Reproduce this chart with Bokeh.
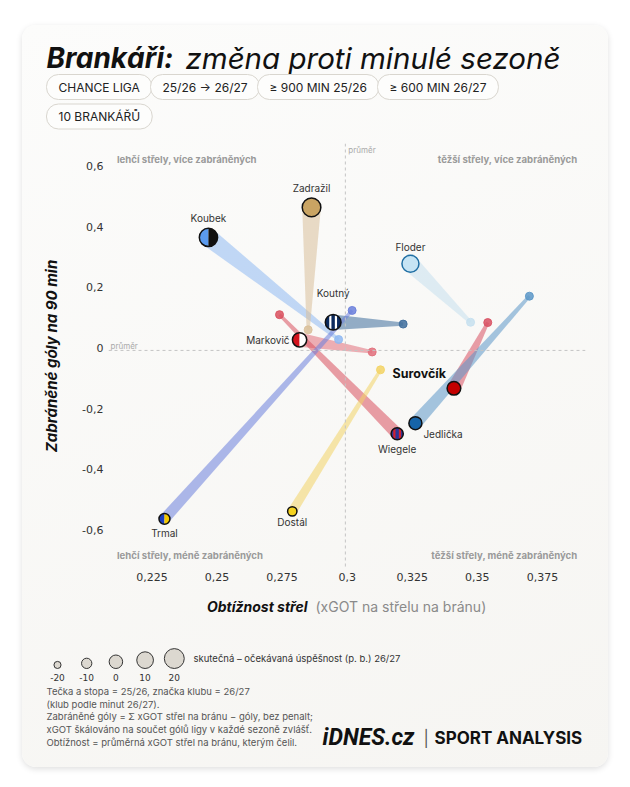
import math
from bokeh.plotting import figure
from bokeh.models import Range1d, FixedTicker, CustomJSTickFormatter, Span, Label
from bokeh.layouts import column
from bokeh.embed import file_html
from bokeh.resources import INLINE
from bokeh.core.properties import value

# ---------------- data ----------------
names = ["Koubek", "Zadražil", "Koutný", "Floder", "Markovič",
         "Wiegele", "Surovčík", "Jedlička", "Trmal", "Dostál"]
# 25/26 (dot + trail start)
prev_difficulty = [0.2967, 0.2850, 0.3215, 0.3474, 0.3096, 0.2740, 0.3540, 0.3700, 0.3019, 0.3128]
prev_prevented = [0.028, 0.060, 0.079, 0.085, -0.013, 0.110, 0.084, 0.171, 0.124, -0.072]
# 26/27 (club marker)
cur_difficulty = [0.2467, 0.2863, 0.2946, 0.3243, 0.2817, 0.3192, 0.3410, 0.3262, 0.2298, 0.2789]
cur_prevented = [0.365, 0.464, 0.085, 0.278, 0.027, -0.283, -0.133, -0.248, -0.564, -0.539]
# actual - expected save % (p. b.) 26/27
save_delta_pp = [15, 16, 7, 11, 2.5, -4, 0.5, -1.5, -8, -13]

avg_difficulty = 0.2993
avg_prevented = -0.008

x_ticks = [0.225, 0.25, 0.275, 0.3, 0.325, 0.35, 0.375]
y_ticks = [-0.6, -0.4, -0.2, 0.0, 0.2, 0.4, 0.6]
legend_values = [-20, -10, 0, 10, 20]

chips_row1 = ["CHANCE LIGA", "25/26 → 26/27", "≥ 900 MIN 25/26", "≥ 600 MIN 26/27"]
chips_row2 = ["10 BRANKÁŘŮ"]
notes = [
    "Tečka a stopa = 25/26, značka klubu = 26/27",
    "(klub podle minut 26/27).",
    "Zabráněné góly = Σ xGOT střel na bránu − góly, bez penalt;",
    "xGOT škálováno na součet gólů ligy v každé sezoně zvlášť.",
    "Obtížnost = průměrná xGOT střel na bránu, kterým čelil.",
]

# ---------------- styles ----------------
primary = ["#5b9bef", "#c9a463", "#0b2a5e", "#c6e4f4", "#d3121c",
           "#2c3596", "#c40000", "#1664a8", "#1c3fc0", "#f4d21f"]
secondary = ["#111111", None, "#ffffff", None, "#ffffff",
             "#d3202e", None, None, "#f4c800", None]
pattern = ["half", "solid", "stripes", "solid", "half",
           "stripes", "solid", "solid", "half", "solid"]
outline = ["#111111"] * 10
outline[3] = "#1f6ea3"
trail_color = ["#8fb9f2", "#d9c09a", "#3e6d9c", "#c7e0ef", "#e2707c",
               "#d9505e", "#d85062", "#5d98c8", "#6b80dc", "#f3d466"]

label_layout = {
    "Koubek": (0, -19, "center"),
    "Zadražil": (0, -19, "center"),
    "Koutný": (0, -29, "center"),
    "Floder": (0, -17, "center"),
    "Markovič": (-10, 0, "right"),
    "Wiegele": (0, 15, "center"),
    "Jedlička": (8, 11, "left"),
    "Trmal": (0, 14, "center"),
    "Dostál": (0, 11, "center"),
}

CARD = None
FONT = "Inter"
W = 586
H_HEAD, H_MAIN, H_FOOT = 110, 455, 177
ML, MR, MT, MB = 86, 23, 8, 22
X0, X1 = 0.20830, 0.39155
Y0, Y1 = -0.7277, 0.6749
FW = W - ML - MR
FH = H_MAIN - MT - MB
kx = FW / (X1 - X0)
ky = FH / (Y1 - Y0)


def diam(delta):
    return 13.5 + 0.32 * delta


def plain_fig(height):
    fg = figure(width=W, height=height, x_range=Range1d(0, W), y_range=Range1d(height, 0),
                min_border=0, x_axis_location=None, y_axis_location=None, title=None,
                output_backend="svg", toolbar_location=None, frame_align=False)
    fg.grid.visible = False
    fg.outline_line_color = None
    fg.background_fill_color = CARD
    fg.border_fill_color = CARD
    return fg


# ---------------- main chart ----------------
p = figure(width=W, height=H_MAIN, x_range=Range1d(X0, X1), y_range=Range1d(Y0, Y1),
           min_border_left=ML, min_border_right=MR, min_border_top=MT, min_border_bottom=MB,
           output_backend="svg", toolbar_location=None, title=None, frame_align=False)
p.background_fill_color = CARD
p.border_fill_color = CARD
p.outline_line_color = None
p.grid.visible = False

fmt = CustomJSTickFormatter(code="""
let s = tick.toFixed(3).replace(/0+$/, '').replace(/\\.$/, '');
return s.replace('.', ',');
""")
for ax, ticks in ((p.xaxis[0], x_ticks), (p.yaxis[0], y_ticks)):
    ax.ticker = FixedTicker(ticks=ticks)
    ax.formatter = fmt
    ax.axis_line_color = None
    ax.major_tick_line_color = None
    ax.minor_tick_line_color = None
    ax.major_tick_out = 0
    ax.major_tick_in = 0
    ax.minor_tick_out = 0
    ax.minor_tick_in = 0
    ax.major_label_text_font = "DejaVu Sans"
    ax.major_label_text_font_size = "11px"
    ax.major_label_text_color = "#333333"
    ax.major_label_standoff = 5
p.xaxis[0].major_label_standoff = 4
p.yaxis[0].axis_label = "Zabráněné góly na 90 min"
p.yaxis[0].axis_label_text_font = FONT
p.yaxis[0].axis_label_text_font_style = "bold italic"
p.yaxis[0].axis_label_text_font_size = "15px"
p.yaxis[0].axis_label_text_color = "#111111"
p.yaxis[0].axis_label_standoff = 18

# average lines
p.add_layout(Span(location=avg_difficulty, dimension="height", line_color="#c4c4c4",
                  line_dash="3 3", line_width=1))
p.add_layout(Span(location=avg_prevented, dimension="width", line_color="#c4c4c4",
                  line_dash="3 3", line_width=1))
p.add_layout(Label(x=avg_difficulty + 3 / kx, y=Y1 - 6 / ky, text="průměr", text_font=FONT,
                   text_font_size="8px", text_color="#aaaaaa", text_baseline="middle"))
p.add_layout(Label(x=X0 + 2 / kx, y=avg_prevented + 4 / ky, text="průměr", text_font=FONT,
                   text_font_size="8px", text_color="#aaaaaa", text_baseline="middle"))

# quadrant labels
quad = [("lehčí střely, více zabráněných", X0 + 8.5 / kx, Y1 - 16 / ky, "left"),
        ("těžší střely, více zabráněných", X1 - 8 / kx, Y1 - 16 / ky, "right"),
        ("lehčí střely, méně zabráněných", X0 + 8.5 / kx, Y0 + 13 / ky, "left"),
        ("těžší střely, méně zabráněných", X1 - 8 / kx, Y0 + 13 / ky, "right")]
for t, qx, qy, al in quad:
    p.add_layout(Label(x=qx, y=qy, text=t, text_font=FONT, text_font_size="9.6px",
                       text_font_style="bold", text_color="#9a9a9a", text_align=al,
                       text_baseline="middle"))

n = len(names)
diams = [diam(d) for d in save_delta_pp]

# trails
xs, ys = [], []
for i in range(n):
    x0p, y0p = prev_difficulty[i] * kx, prev_prevented[i] * ky
    x1p, y1p = cur_difficulty[i] * kx, cur_prevented[i] * ky
    dx, dy = x1p - x0p, y1p - y0p
    L = math.hypot(dx, dy)
    nx, ny = -dy / L, dx / L
    w0, w1 = 1.6, diams[i] / 2
    pts = [(x0p + nx * w0, y0p + ny * w0), (x1p + nx * w1, y1p + ny * w1),
           (x1p - nx * w1, y1p - ny * w1), (x0p - nx * w0, y0p - ny * w0)]
    xs.append([q[0] / kx for q in pts])
    ys.append([q[1] / ky for q in pts])
p.patches(xs, ys, fill_color=trail_color, fill_alpha=0.55, line_color=None)

# previous season dots
p.scatter(prev_difficulty, prev_prevented, size=8, fill_color=trail_color, fill_alpha=0.85,
          line_color=trail_color, line_alpha=0.9, line_width=1)

# club markers
for i in range(n):
    cx, cy, d = cur_difficulty[i], cur_prevented[i], diams[i]
    r = d / 2
    if pattern[i] == "solid":
        p.scatter([cx], [cy], size=d, fill_color=primary[i], line_color=outline[i], line_width=1.5)
        continue
    if pattern[i] == "half":
        p.wedge([cx], [cy], radius=r, radius_units="screen", start_angle=math.pi / 2,
                end_angle=3 * math.pi / 2, fill_color=primary[i], line_color=None)
        p.wedge([cx], [cy], radius=r, radius_units="screen", start_angle=-math.pi / 2,
                end_angle=math.pi / 2, fill_color=secondary[i], line_color=None)
    else:
        p.scatter([cx], [cy], size=d, fill_color=primary[i], line_color=None)
        for off in (-2.8, 2.8):
            hh = math.sqrt(max(r * r - off * off, 0)) - 0.5
            p.segment([cx + off / kx], [cy - hh / ky], [cx + off / kx], [cy + hh / ky],
                      line_color=secondary[i], line_width=2.2, line_cap="butt")
    p.scatter([cx], [cy], size=d, fill_color=None, line_color=outline[i], line_width=1.5)

# names
for i, nm in enumerate(names):
    if nm in label_layout:
        xo, yo, al = label_layout[nm]
        p.text([cur_difficulty[i]], [cur_prevented[i]], text=[nm], x_offset=xo, y_offset=yo,
               text_align=al, text_baseline="middle", text_font=value(FONT),
               text_font_size="10px", text_color="#333333")
si = names.index("Surovčík")
p.text([cur_difficulty[si]], [cur_prevented[si]], text=["Surovčík"], x_offset=-8, y_offset=-15,
       text_align="right", text_baseline="middle", text_font=value(FONT),
       text_font_size="12.5px", text_font_style="bold", text_color="#111111")

# ---------------- header ----------------
h = plain_fig(H_HEAD)
h.add_layout(Label(x=24, y=32, text="Brankáři:", text_font=FONT, text_font_size="28px",
                   text_font_style="bold italic", text_color="#111111",
                   text_baseline="alphabetic"))
h.add_layout(Label(x=163, y=32, text="změna proti minulé sezoně", text_font=FONT,
                   text_font_size="29.5px", text_font_style="italic", text_color="#111111",
                   text_baseline="alphabetic"))
chip_x1 = [24, 128, 235, 355]
for t, cxp in zip(chips_row1, chip_x1):
    h.add_layout(Label(x=cxp, y=61.5, text=t, text_font=FONT, text_font_size="12px",
                       text_color="#222222", text_baseline="middle", padding=(12, 5),
                       background_fill_color="#fdfdfc", border_line_color="#d9d6cf",
                       border_line_width=1, border_radius=12))
for t in chips_row2:
    h.add_layout(Label(x=24, y=91, text=t, text_font=FONT, text_font_size="12px",
                       text_color="#222222", text_baseline="middle", padding=(12, 5),
                       background_fill_color="#fdfdfc", border_line_color="#d9d6cf",
                       border_line_width=1, border_radius=12))

# ---------------- footer ----------------
f = plain_fig(H_FOOT)
f.add_layout(Label(x=285, y=16, text="Obtížnost střel", text_font=FONT, text_font_size="14px",
                   text_font_style="bold italic", text_color="#111111", text_align="right",
                   text_baseline="middle"))
f.add_layout(Label(x=293, y=16, text="(xGOT na střelu na bránu)", text_font=FONT,
                   text_font_size="14px", text_color="#8a8a8a", text_baseline="middle"))

leg_x = [35 + 29.2 * k for k in range(len(legend_values))]
leg_d = [diam(v) for v in legend_values]
f.scatter(leg_x, [78 - d / 2 for d in leg_d], size=leg_d, fill_color="#dcd8d0",
          line_color="#333333", line_width=1)
f.text(leg_x, [87] * len(leg_x), text=[str(v) for v in legend_values], text_align="center",
       text_baseline="middle", text_font=value("DejaVu Sans"), text_font_size="9px",
       text_color="#333333")
f.add_layout(Label(x=171, y=68, text="skutečná – očekávaná úspěšnost (p. b.) 26/27",
                   text_font=FONT, text_font_size="9.5px", text_color="#333333",
                   text_baseline="middle"))
for k, t in enumerate(notes):
    f.add_layout(Label(x=24, y=101 + 12.7 * k, text=t, text_font=FONT, text_font_size="9.5px",
                       text_color="#555555", text_baseline="middle"))
f.add_layout(Label(x=300, y=147, text="iDNES.cz", text_font="Roboto", text_font_size="23px",
                   text_font_style="bold italic", text_color="#111111", text_baseline="middle"))
f.add_layout(Label(x=401, y=147, text="|", text_font=FONT, text_font_size="16px",
                   text_color="#555555", text_baseline="middle"))
f.add_layout(Label(x=412, y=147, text="SPORT ANALYSIS", text_font=FONT, text_font_size="17px",
                   text_font_style="bold", text_color="#111111", text_baseline="middle"))

layout = column(h, p, f, margin=(25, 0, 0, 22),
                styles={"background": "linear-gradient(160deg, #fcfcfb 0%, #f6f5f2 100%)",
                        "border-radius": "14px",
                        "box-shadow": "0 2px 6px rgba(0,0,0,0.13)"})

open("out.html", "w").write(file_html(layout, INLINE))
